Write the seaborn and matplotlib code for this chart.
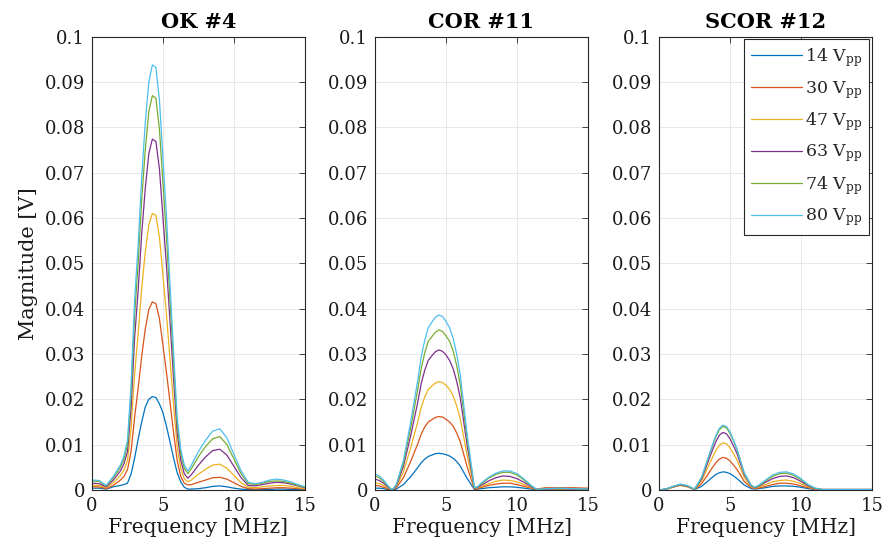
import numpy as np
import pandas as pd
import matplotlib
matplotlib.use('Agg')
import matplotlib.pyplot as plt
import seaborn as sns

# ---- data ----
voltages = ['14', '30', '47', '63', '74', '80']
titles = ['OK #4', 'COR #11', 'SCOR #12']

# OK #4
freq_ok = [0, 0.5, 1.0, 1.5, 2.0, 2.25, 2.5, 2.75, 3.0, 3.25, 3.5, 3.75, 4.0, 4.25, 4.5, 4.75,
           5.0, 5.25, 5.5, 5.75, 6.0, 6.25, 6.5, 6.75, 7.0, 7.5, 8.0, 8.5, 9.0, 9.5, 10.0,
           10.5, 11.0, 11.5, 12.0, 12.5, 13.0, 13.5, 14.0, 14.5, 15.0]
ok_14 = [0.0004, 0.0004, 0.0002, 0.0007, 0.0010, 0.0012, 0.0015, 0.0035, 0.0070, 0.0112, 0.0150,
         0.0183, 0.0200, 0.0206, 0.0204, 0.0190, 0.0170, 0.0140, 0.0105, 0.0070, 0.0038, 0.0018,
         0.0006, 0.0002, 0.0002, 0.0003, 0.0005, 0.0008, 0.0009, 0.0007, 0.0004, 0.0002, 0.0001,
         0.0001, 0.0001, 0.0001, 0.0002, 0.0002, 0.0001, 0.0001, 0.0001]
ok_30 = [0.0007, 0.0007, 0.0003, 0.0010, 0.0022, 0.0030, 0.0045, 0.0085, 0.0160, 0.0225, 0.0295,
         0.0355, 0.0398, 0.0415, 0.0411, 0.0378, 0.0318, 0.0258, 0.0192, 0.0125, 0.0065, 0.0030,
         0.0015, 0.0011, 0.0012, 0.0017, 0.0022, 0.0027, 0.0028, 0.0024, 0.0016, 0.0008, 0.0003,
         0.0002, 0.0003, 0.0004, 0.0005, 0.0005, 0.0004, 0.0003, 0.0002]
ok_47 = [0.0010, 0.0010, 0.0005, 0.0016, 0.0032, 0.0044, 0.0065, 0.0135, 0.0255, 0.0345, 0.0445,
         0.0525, 0.0585, 0.0610, 0.0606, 0.0558, 0.0472, 0.0385, 0.0285, 0.0185, 0.0095, 0.0048,
         0.0025, 0.0018, 0.0022, 0.0035, 0.0046, 0.0055, 0.0057, 0.0048, 0.0032, 0.0016, 0.0006,
         0.0005, 0.0007, 0.0009, 0.0010, 0.0010, 0.0008, 0.0005, 0.0003]
ok_63 = [0.0015, 0.0014, 0.0007, 0.0022, 0.0042, 0.0058, 0.0085, 0.0180, 0.0335, 0.0440, 0.0565,
         0.0665, 0.0742, 0.0774, 0.0769, 0.0708, 0.0600, 0.0492, 0.0368, 0.0243, 0.0125, 0.0066,
         0.0036, 0.0026, 0.0034, 0.0055, 0.0073, 0.0087, 0.0090, 0.0077, 0.0052, 0.0027, 0.0010,
         0.0009, 0.0012, 0.0015, 0.0017, 0.0016, 0.0013, 0.0009, 0.0005]
ok_74 = [0.0020, 0.0019, 0.0009, 0.0027, 0.0050, 0.0068, 0.0100, 0.0210, 0.0385, 0.0500, 0.0640,
         0.0750, 0.0835, 0.0870, 0.0864, 0.0795, 0.0675, 0.0555, 0.0415, 0.0275, 0.0145, 0.0080,
         0.0048, 0.0036, 0.0047, 0.0074, 0.0096, 0.0113, 0.0118, 0.0100, 0.0068, 0.0036, 0.0014,
         0.0012, 0.0015, 0.0019, 0.0020, 0.0019, 0.0015, 0.0010, 0.0006]
ok_80 = [0.0022, 0.0021, 0.0010, 0.0030, 0.0055, 0.0075, 0.0110, 0.0230, 0.0420, 0.0540, 0.0690,
         0.0810, 0.0900, 0.0938, 0.0932, 0.0860, 0.0730, 0.0600, 0.0450, 0.0300, 0.0160, 0.0090,
         0.0055, 0.0042, 0.0055, 0.0085, 0.0110, 0.0130, 0.0135, 0.0115, 0.0078, 0.0042, 0.0017,
         0.0014, 0.0017, 0.0022, 0.0024, 0.0022, 0.0018, 0.0012, 0.0007]

# COR #11
freq_cor = [0, 0.3, 0.6, 0.9, 1.2, 1.5, 2.0, 2.5, 3.0, 3.25, 3.5, 3.75, 4.0, 4.25, 4.5, 4.75, 5.0,
            5.25, 5.5, 5.75, 6.0, 6.5, 7.0, 7.25, 7.5, 8.0, 8.5, 9.0, 9.5, 10.0, 10.5, 11.0, 11.4,
            12.0, 13.0, 14.0, 15.0]
cor_14 = [0.0004, 0.0004, 0.0003, 0.0001, 0.0000, 0.0002, 0.0012, 0.0029, 0.0049, 0.0060, 0.0068,
          0.0074, 0.0077, 0.0080, 0.0081, 0.0080, 0.0078, 0.0075, 0.0070, 0.0063, 0.0053, 0.0025,
          0.0001, 0.0002, 0.0003, 0.0005, 0.0006, 0.0007, 0.0007, 0.0006, 0.0004, 0.0002, 0.0001,
          0.0001, 0.0002, 0.0002, 0.0001]
cor_30 = [0.0010, 0.0009, 0.0006, 0.0003, 0.0000, 0.0005, 0.0027, 0.0062, 0.0101, 0.0123, 0.0139,
          0.0150, 0.0155, 0.0160, 0.0162, 0.0161, 0.0156, 0.0150, 0.0141, 0.0126, 0.0107, 0.0050,
          0.0002, 0.0003, 0.0006, 0.0010, 0.0013, 0.0015, 0.0015, 0.0012, 0.0008, 0.0004, 0.0002,
          0.0005, 0.0005, 0.0005, 0.0004]
cor_47 = [0.0016, 0.0014, 0.0010, 0.0005, 0.0000, 0.0007, 0.0040, 0.0092, 0.0149, 0.0182, 0.0205,
          0.0222, 0.0229, 0.0236, 0.0239, 0.0237, 0.0231, 0.0222, 0.0208, 0.0186, 0.0158, 0.0074,
          0.0003, 0.0005, 0.0008, 0.0014, 0.0019, 0.0022, 0.0021, 0.0018, 0.0012, 0.0005, 0.0001,
          0.0002, 0.0002, 0.0002, 0.0001]
cor_63 = [0.0024, 0.0021, 0.0015, 0.0007, 0.0000, 0.0009, 0.0052, 0.0118, 0.0192, 0.0234, 0.0264,
          0.0286, 0.0296, 0.0305, 0.0309, 0.0306, 0.0298, 0.0286, 0.0268, 0.0240, 0.0204, 0.0096,
          0.0004, 0.0006, 0.0011, 0.0020, 0.0027, 0.0031, 0.0030, 0.0025, 0.0017, 0.0007, 0.0001,
          0.0002, 0.0003, 0.0002, 0.0002]
cor_74 = [0.0031, 0.0027, 0.0019, 0.0009, 0.0000, 0.0011, 0.0059, 0.0135, 0.0220, 0.0268, 0.0302,
          0.0328, 0.0338, 0.0348, 0.0353, 0.0350, 0.0340, 0.0328, 0.0307, 0.0275, 0.0233, 0.0110,
          0.0005, 0.0007, 0.0014, 0.0026, 0.0034, 0.0039, 0.0039, 0.0033, 0.0022, 0.0009, 0.0001,
          0.0003, 0.0003, 0.0003, 0.0002]
cor_80 = [0.0035, 0.0031, 0.0022, 0.0010, 0.0000, 0.0012, 0.0065, 0.0148, 0.0240, 0.0293, 0.0330,
          0.0358, 0.0370, 0.0381, 0.0386, 0.0383, 0.0372, 0.0358, 0.0335, 0.0300, 0.0255, 0.0120,
          0.0005, 0.0008, 0.0016, 0.0028, 0.0037, 0.0042, 0.0042, 0.0036, 0.0024, 0.0010, 0.0001,
          0.0003, 0.0004, 0.0003, 0.0002]

# SCOR #12
freq_scor = [0, 0.5, 1.0, 1.5, 2.0, 2.5, 3.0, 3.5, 3.75, 4.0, 4.25, 4.5, 4.75, 5.0, 5.25, 5.5, 6.0,
             6.5, 6.75, 7.0, 7.5, 8.0, 8.5, 9.0, 9.5, 10.0, 10.5, 11.0, 11.5, 12.0, 13.0, 14.0, 15.0]
scor_14 = [0.0000, 0.0002, 0.0008, 0.0012, 0.0008, 0.0001, 0.0008, 0.0021, 0.0028, 0.0034, 0.0038,
           0.0040, 0.0039, 0.0036, 0.0031, 0.0025, 0.0011, 0.0003, 0.0002, 0.0003, 0.0005, 0.0008,
           0.0009, 0.0009, 0.0008, 0.0006, 0.0003, 0.0001, 0.0001, 0.0001, 0.0001, 0.0001, 0.0001]
scor_30 = [0.0000, 0.0002, 0.0007, 0.0011, 0.0008, 0.0001, 0.0014, 0.0037, 0.0049, 0.0060, 0.0068,
           0.0072, 0.0070, 0.0064, 0.0055, 0.0045, 0.0019, 0.0005, 0.0003, 0.0004, 0.0008, 0.0012,
           0.0015, 0.0015, 0.0013, 0.0009, 0.0005, 0.0002, 0.0001, 0.0001, 0.0001, 0.0001, 0.0001]
scor_47 = [0.0000, 0.0001, 0.0006, 0.0010, 0.0007, 0.0001, 0.0020, 0.0054, 0.0071, 0.0087, 0.0099,
           0.0104, 0.0102, 0.0093, 0.0080, 0.0066, 0.0028, 0.0007, 0.0004, 0.0006, 0.0012, 0.0018,
           0.0021, 0.0022, 0.0019, 0.0014, 0.0007, 0.0002, 0.0001, 0.0001, 0.0001, 0.0001, 0.0001]
scor_63 = [0.0000, 0.0002, 0.0007, 0.0011, 0.0008, 0.0002, 0.0024, 0.0066, 0.0087, 0.0106, 0.0121,
           0.0127, 0.0124, 0.0113, 0.0097, 0.0080, 0.0034, 0.0009, 0.0005, 0.0008, 0.0017, 0.0025,
           0.0030, 0.0031, 0.0027, 0.0019, 0.0009, 0.0003, 0.0001, 0.0001, 0.0001, 0.0001, 0.0001]
scor_74 = [0.0000, 0.0002, 0.0008, 0.0012, 0.0009, 0.0002, 0.0027, 0.0073, 0.0096, 0.0117, 0.0133,
           0.0140, 0.0137, 0.0125, 0.0108, 0.0088, 0.0037, 0.0010, 0.0006, 0.0009, 0.0020, 0.0030,
           0.0036, 0.0037, 0.0032, 0.0023, 0.0011, 0.0004, 0.0001, 0.0001, 0.0001, 0.0001, 0.0001]
scor_80 = [0.0000, 0.0002, 0.0008, 0.0013, 0.0010, 0.0002, 0.0028, 0.0075, 0.0098, 0.0120, 0.0136,
           0.0143, 0.0140, 0.0128, 0.0110, 0.0090, 0.0038, 0.0010, 0.0006, 0.0010, 0.0022, 0.0033,
           0.0039, 0.0040, 0.0035, 0.0025, 0.0012, 0.0004, 0.0001, 0.0001, 0.0001, 0.0001, 0.0001]

panels = [
    (freq_ok, [ok_14, ok_30, ok_47, ok_63, ok_74, ok_80]),
    (freq_cor, [cor_14, cor_30, cor_47, cor_63, cor_74, cor_80]),
    (freq_scor, [scor_14, scor_30, scor_47, scor_63, scor_74, scor_80]),
]

# MATLAB default line colours
matlab_colors = ['#0072BD', '#D95319', '#EDB120', '#7E2F8E', '#77AC30', '#4DBEEE']

sns.set_theme(style='white')
plt.rcParams['font.family'] = ['DejaVu Serif']
plt.rcParams['mathtext.fontset'] = 'dejavuserif'

fig = plt.figure(figsize=(8.82, 5.5), dpi=100)
lefts = [92 / 882, 375 / 882, 659 / 882]
axes = [fig.add_axes([l, 1 - 490 / 550, 213 / 882, (490 - 36.7) / 550]) for l in lefts]

labels = [v + r' V$_{\mathrm{pp}}$' for v in voltages]
palette = dict(zip(labels, matlab_colors))

for k, (ax, (freq, curves)) in enumerate(zip(axes, panels)):
    rows = []
    for lab, vals in zip(labels, curves):
        for f, m in zip(freq, vals):
            rows.append({'Frequency': f, 'Magnitude': m, 'Voltage': lab})
    df = pd.DataFrame(rows)
    sns.lineplot(data=df, x='Frequency', y='Magnitude', hue='Voltage', palette=palette,
                 hue_order=labels, estimator=None, sort=True, linewidth=0.9, ax=ax,
                 legend=(k == 2))

    ax.set_xlim(0, 15)
    ax.set_ylim(0, 0.1)
    ax.set_xticks([0, 5, 10, 15])
    ax.set_yticks(np.arange(0, 0.1001, 0.01))
    ax.set_yticklabels(['0'] + ['%.2f' % v for v in np.arange(0.01, 0.0951, 0.01)] + ['0.1'])
    ax.grid(True, color='#e3e3e3', linewidth=0.6)
    ax.set_axisbelow(True)
    for sp in ax.spines.values():
        sp.set_color('#262626')
        sp.set_linewidth(0.8)
    ax.tick_params(direction='in', length=4, width=0.6, color='#262626', top=True, right=True,
                   labelsize=13, labelcolor='#1a1a1a', pad=5)
    ax.set_xlabel('Frequency [MHz]', fontsize=14.5, color='#1a1a1a', labelpad=2)
    ax.set_ylabel('')
    ax.set_title(titles[k], fontsize=15, fontweight='bold', color='black', pad=6)

axes[0].set_ylabel('Magnitude [V]', fontsize=15, color='#1a1a1a', labelpad=5)

leg = axes[2].legend(loc='upper right', fontsize=12.5, frameon=True, fancybox=False,
                     handlelength=2.9, labelspacing=0.55, borderaxespad=0.15,
                     handletextpad=0.2, borderpad=0.4)
leg.get_frame().set_edgecolor('#262626')
leg.get_frame().set_linewidth(0.8)
leg.get_frame().set_alpha(1.0)

fig.savefig('out.png', dpi=100)
